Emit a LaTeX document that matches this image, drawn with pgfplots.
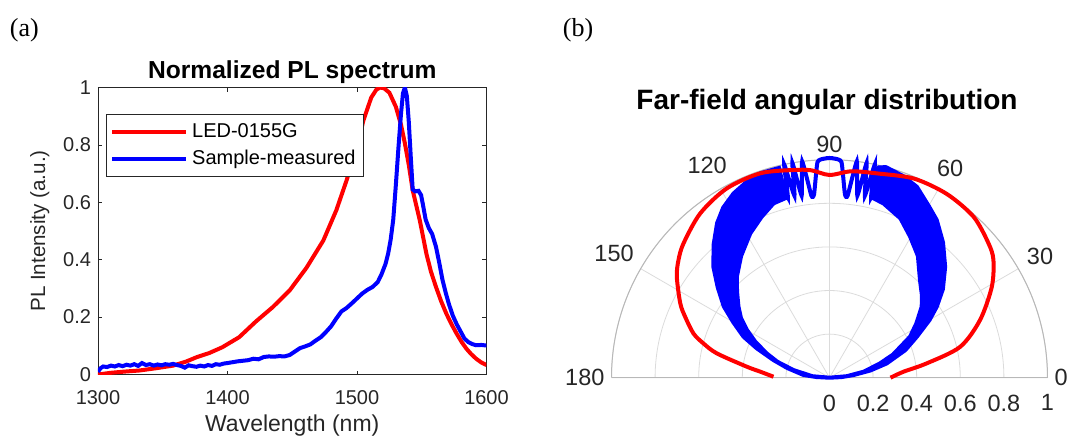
\documentclass[border=0pt]{standalone}
\usepackage{fontspec}
\setmainfont{Liberation Sans}
\newfontfamily\panelfont{Liberation Serif}
\usepackage{pgfplots}
\pgfplotsset{compat=1.18}
\usepgfplotslibrary{polar}
\definecolor{axisgray}{rgb}{0.15,0.15,0.15}
\definecolor{polgrid}{rgb}{0.86,0.86,0.86}
\definecolor{poledge}{rgb}{0.72,0.72,0.72}

\begin{document}
\begin{tikzpicture}
\useasboundingbox (0pt,0pt) rectangle (533.5pt,-220.5pt);

% panel letters
\node[font=\panelfont\fontsize{13}{14}\selectfont, anchor=base] at (12.2pt,-18pt) {(a)};
\node[font=\panelfont\fontsize{13}{14}\selectfont, anchor=base] at (289pt,-18pt) {(b)};

% ---------------- (a) PL spectrum ----------------
\begin{axis}[
  at={(49pt,-187.25pt)}, anchor=south west,
  scale only axis, width=194.25pt, height=143.5pt,
  xmin=1300, xmax=1600, ymin=0, ymax=1,
  xtick={1300,1400,1500,1600},
  ytick={0,0.2,0.4,0.6,0.8,1},
  /pgf/number format/assume math mode=true,
  xticklabel style={/pgf/number format/1000 sep={}, yshift=-4.5pt},
  yticklabel style={/pgf/number format/fixed},
  tick align=inside, xtick pos=both, ytick pos=both,
  major tick length=2pt,
  tick style={axisgray, line width=0.4pt},
  axis line style={axisgray, line width=0.4pt},
  ticklabel style={font=\fontsize{10}{12}\selectfont, text=axisgray},
  xlabel={Wavelength (nm)},
  ylabel={PL Intensity (a.u.)},
  xlabel style={font=\fontsize{11.5}{13}\selectfont, text=axisgray, yshift=2pt},
  ylabel style={font=\fontsize{10.3}{12}\selectfont, text=axisgray},
  title={\bfseries Normalized PL spectrum},
  title style={font=\fontsize{12.3}{14}\selectfont, at={(0.5,1)}, anchor=base, yshift=-1.25pt},
  legend style={at={(0.02,0.906)}, anchor=north west, draw=axisgray, fill=white,
    font=\fontsize{10}{12}\selectfont, inner xsep=2pt, inner ysep=2.5pt, row sep=0.5pt},
  legend cell align=left,
  legend image code/.code={\draw[#1] (0pt,0pt) -- (37pt,0pt);},
]
\addplot[red, line width=2pt] coordinates {
  (1300,0.000)(1310,0.006)(1320,0.010)(1332,0.014)(1345,0.022)(1358,0.031)
  (1368,0.045)(1376,0.060)(1386,0.075)(1396,0.095)(1409,0.130)(1422,0.185)
  (1435,0.235)(1448,0.293)(1461,0.372)(1474,0.467)(1484,0.572)(1492,0.677)
  (1500,0.793)(1505,0.886)(1511,0.965)(1515,0.993)(1518,1.000)(1521,0.997)
  (1525,0.982)(1530,0.933)(1534,0.870)(1537,0.805)(1540,0.730)(1543,0.642)
  (1548.5,0.537)(1553.6,0.421)(1557,0.360)(1561,0.305)(1565,0.255)(1569,0.212)
  (1573,0.175)(1577,0.142)(1581,0.112)(1584.5,0.090)(1588,0.072)(1592,0.055)
  (1596,0.042)(1600,0.033)
};
\addplot[blue, line width=2pt] coordinates {
  (1300,0.010)(1302,0.022)(1304,0.028)(1307,0.026)(1310,0.031)(1313,0.028)
  (1316,0.033)(1319,0.029)(1322,0.034)(1325,0.031)(1328,0.036)(1331,0.030)
  (1334,0.040)(1337,0.033)(1340,0.036)(1343,0.031)(1346,0.035)(1349,0.032)
  (1352,0.036)(1355,0.034)(1358,0.037)(1361,0.033)(1364,0.030)(1367,0.024)
  (1370,0.032)(1373,0.029)(1376,0.027)(1379,0.031)(1382,0.028)(1385,0.033)
  (1388,0.030)(1391,0.036)(1394,0.034)(1397,0.038)(1400,0.040)(1404,0.043)
  (1408,0.046)(1412,0.048)(1416,0.050)(1420,0.055)(1424,0.053)(1428,0.061)
  (1432,0.063)(1436,0.062)(1440,0.064)(1444,0.063)(1448,0.068)(1452,0.080)
  (1456,0.092)(1460,0.098)(1464,0.105)(1468,0.118)(1472,0.130)(1476,0.148)
  (1480,0.168)(1484,0.195)(1488,0.220)(1492,0.232)(1496,0.248)(1500,0.265)
  (1504,0.282)(1508,0.295)(1512,0.305)(1516,0.322)(1519,0.350)(1522,0.385)
  (1524,0.420)(1526,0.470)(1528,0.540)(1530,0.660)(1532,0.790)(1534,0.910)
  (1535.5,0.980)(1537,1.000)(1538.5,0.970)(1540,0.880)(1541.5,0.760)(1543,0.645)
  (1545,0.638)(1547.5,0.640)(1549.5,0.625)(1551,0.590)(1553,0.540)(1555.5,0.510)
  (1558,0.490)(1561,0.445)(1563.5,0.390)(1566,0.330)(1568.5,0.285)(1571,0.245)
  (1574,0.205)(1577,0.175)(1580,0.150)(1583,0.125)(1586,0.113)(1589,0.106)
  (1592,0.102)(1596,0.103)(1600,0.101)
};
\legend{LED-0155G, Sample-measured}
\end{axis}

% ---------------- (b) far-field polar ----------------
\node[font=\bfseries\fontsize{14}{16}\selectfont, anchor=base] at (413.5pt,-54.5pt)
  {Far-field angular distribution};

\begin{polaraxis}[
  at={(414.75pt,-188.85pt)}, anchor=origin,
  scale only axis, width=218pt, height=218pt,
  xmin=0, xmax=180, ymin=0, ymax=1,
  xtick={0,30,60,90,120,150,180},
  ytick={0,0.2,0.4,0.6,0.8,1},
  xticklabel={\pgfmathprintnumber{\tick}},
  /pgf/number format/assume math mode=true,
  yticklabel style={/pgf/number format/fixed, anchor=north, yshift=-5pt},
  ticklabel style={font=\fontsize{11.75}{13}\selectfont, text=axisgray},
  grid=major, major grid style={polgrid, line width=0.4pt},
  axis line style={poledge, line width=0.5pt},
  major tick length=0pt,
  clip=false,
]
% blue: right lobe of the oscillating band (outer edge out, inner edge back)
\addplot[blue, fill=blue, line width=2pt, line join=round] coordinates {
  (0,0)(3,0.055)(6.3,0.11)(10,0.19)(14,0.27)(20,0.37)(25.1,0.442)(30,0.53)
  (33.5,0.59)(38,0.66)(43.8,0.735)(50,0.81)(55.8,0.875)(60,0.91)(65.4,0.963)
  (70,0.985)(75,1.0)(77,0.99)
  (77,0.85)(72.8,0.837)(66,0.80)(60.2,0.745)(54,0.69)(47.1,0.61)(42,0.57)
  (37.6,0.534)(32,0.47)(27,0.415)(20,0.31)(15.8,0.24)(10,0.16)(5,0.08)(0,0)
};
% blue: left lobe
\addplot[blue, fill=blue, line width=2pt, line join=round] coordinates {
  (103,0.99)(108.7,0.99)(113,0.975)(117.5,0.953)(122,0.92)(126,0.877)(131,0.81)
  (136.3,0.737)(141,0.66)(146,0.585)(150,0.51)(154.5,0.437)(158,0.36)
  (162.5,0.27)(167,0.2)(174,0.12)(177,0.06)(180,0)
  (175,0.08)(168,0.169)(163,0.25)(158.8,0.31)(154,0.38)(150,0.437)(146,0.49)
  (142,0.53)(137,0.58)(132.5,0.629)(126,0.69)(118.8,0.755)(113,0.8)
  (107.8,0.84)(103,0.85)
};
% blue: resolved oscillations around the normal
\addplot[blue, line width=2pt, smooth, tension=0.3] coordinates {
  (76,0.99)(77,0.85)(78,1.0)(79,0.85)(80.2,1.0)(81.3,0.845)(82.8,1.0)
  (84.3,0.84)(85.2,0.845)(86.8,0.99)(88.5,1.005)(90,1.008)(91.5,1.005)
  (93.2,0.99)(94.8,0.845)(95.7,0.84)(97.2,1.0)(98.7,0.845)(99.8,1.0)
  (100.9,0.85)(102,1.0)(103,0.85)(104,0.99)
};
% red: LED-0155G reference
\addplot[red, line width=2pt, smooth, tension=0.5] coordinates {
  (0,0.28)(4.6,0.34)(8.4,0.451)(13.3,0.616)(21,0.74)(29.3,0.854)
  (35.7,0.926)(40.2,0.955)(48.2,0.991)(57.5,1.0)(67.1,0.992)(77,0.962)
  (84,0.952)(90,0.93)(95,0.955)(99.8,0.967)(108.7,0.99)
  (118.5,0.988)(128.2,0.959)(137.4,0.91)(142.1,0.878)(146.5,0.84)
  (153.5,0.765)(157.1,0.719)(162,0.656)(164.8,0.599)(167.8,0.529)
  (172.4,0.383)(175,0.319)(179,0.257)
};
\end{polaraxis}
\end{tikzpicture}
\end{document}
